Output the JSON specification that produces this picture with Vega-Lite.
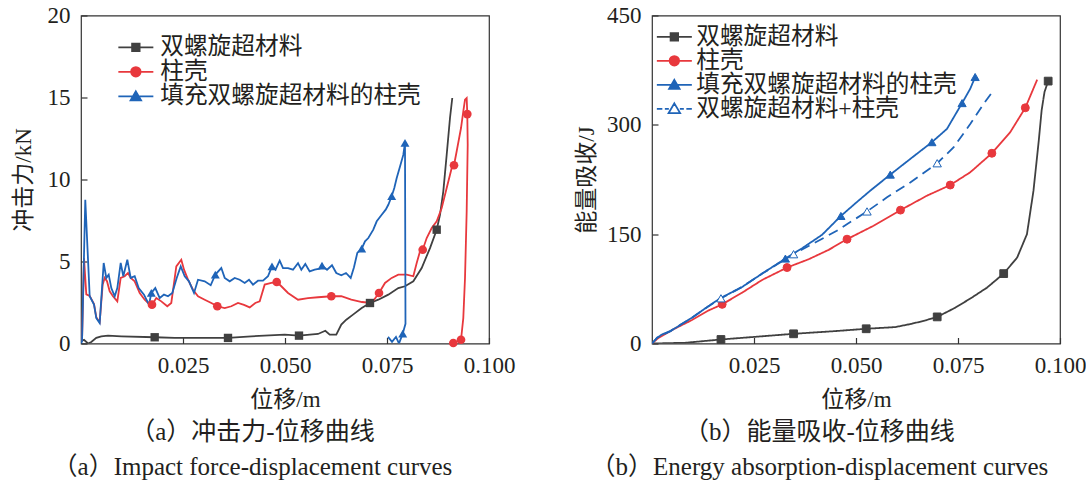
{
  "$schema": "https://vega.github.io/schema/vega-lite/v6.json",
  "background": "white",
  "padding": {"left": 11, "top": 3.5, "right": 0, "bottom": 0},
  "config": {
    "font": "Liberation Serif, Noto Sans CJK SC",
    "view": {"stroke": "#333333", "strokeWidth": 1.2},
    "axis": {
      "labelFont": "Liberation Serif, Noto Sans CJK SC",
      "titleFont": "Liberation Serif, Noto Sans CJK SC",
      "labelFontSize": 23, "titleFontSize": 23, "titleFontWeight": "normal",
      "labelColor": "#231f20", "titleColor": "#231f20",
      "grid": false, "domain": false, "tickColor": "#333333", "tickSize": -6, "tickWidth": 1.2,
      "labelPadding": 17, "labelFlush": false, "labelOverlap": false
    },
    "title": {
      "font": "Liberation Serif, Noto Sans CJK SC", "fontSize": 25, "fontWeight": "normal", "color": "#231f20",
      "subtitleFont": "Liberation Serif, Noto Sans CJK SC", "subtitleFontSize": 25, "subtitleColor": "#231f20",
      "orient": "bottom", "anchor": "middle", "frame": "bounds", "offset": 8, "subtitlePadding": 10, "dx": -11
    },
    "legend": {
      "title": null, "orient": "none", "padding": 0, "symbolSize": 100, "symbolStrokeWidth": 1.8,
      "labelFont": "Liberation Serif, Noto Sans CJK SC", "labelFontSize": 23.7, "labelColor": "#231f20",
      "labelLimit": 500, "symbolOpacity": 1
    }
  },
  "spacing": 58,
  "datasets": {
    "left": [
      {"s":"双螺旋超材料","i":0,"x":0,"y":0.13,"m":0},
      {"s":"双螺旋超材料","i":1,"x":0.00074,"y":0.23,"m":0},
      {"s":"双螺旋超材料","i":2,"x":0.00172,"y":0.0,"m":0},
      {"s":"双螺旋超材料","i":3,"x":0.00252,"y":0.09,"m":0},
      {"s":"双螺旋超材料","i":4,"x":0.00375,"y":0.34,"m":0},
      {"s":"双螺旋超材料","i":5,"x":0.00498,"y":0.44,"m":0},
      {"s":"双螺旋超材料","i":6,"x":0.00662,"y":0.48,"m":0},
      {"s":"双螺旋超材料","i":7,"x":0.00988,"y":0.44,"m":0},
      {"s":"双螺旋超材料","i":8,"x":0.01806,"y":0.38,"m":1},
      {"s":"双螺旋超材料","i":9,"x":0.02297,"y":0.34,"m":0},
      {"s":"双螺旋超材料","i":10,"x":0.03603,"y":0.34,"m":1},
      {"s":"双螺旋超材料","i":11,"x":0.04174,"y":0.44,"m":0},
      {"s":"双螺旋超材料","i":12,"x":0.04993,"y":0.54,"m":0},
      {"s":"双螺旋超材料","i":13,"x":0.05343,"y":0.48,"m":1},
      {"s":"双螺旋超材料","i":14,"x":0.05809,"y":0.58,"m":0},
      {"s":"双螺旋超材料","i":15,"x":0.05988,"y":0.78,"m":0},
      {"s":"双螺旋超材料","i":16,"x":0.06096,"y":0.54,"m":0},
      {"s":"双螺旋超材料","i":17,"x":0.06257,"y":0.54,"m":0},
      {"s":"双螺旋超材料","i":18,"x":0.0638,"y":1.15,"m":0},
      {"s":"双螺旋超材料","i":19,"x":0.06502,"y":1.45,"m":0},
      {"s":"双螺旋超材料","i":20,"x":0.06667,"y":1.76,"m":0},
      {"s":"双螺旋超材料","i":21,"x":0.0688,"y":2.16,"m":0},
      {"s":"双螺旋超材料","i":22,"x":0.07083,"y":2.47,"m":1},
      {"s":"双螺旋超材料","i":23,"x":0.07287,"y":2.67,"m":0},
      {"s":"双螺旋超材料","i":24,"x":0.07532,"y":2.98,"m":0},
      {"s":"双螺旋超材料","i":25,"x":0.07777,"y":3.38,"m":0},
      {"s":"双螺旋超材料","i":26,"x":0.07941,"y":3.49,"m":0},
      {"s":"双螺旋超材料","i":27,"x":0.08145,"y":3.79,"m":0},
      {"s":"双螺旋超材料","i":28,"x":0.0835,"y":4.6,"m":0},
      {"s":"双螺旋超材料","i":29,"x":0.08554,"y":5.82,"m":0},
      {"s":"双螺旋超材料","i":30,"x":0.08718,"y":6.94,"m":1},
      {"s":"双螺旋超材料","i":31,"x":0.08799,"y":7.85,"m":0},
      {"s":"双螺旋超材料","i":32,"x":0.0888,"y":9.28,"m":0},
      {"s":"双螺旋超材料","i":33,"x":0.08963,"y":11.51,"m":0},
      {"s":"双螺旋超材料","i":34,"x":0.09044,"y":13.75,"m":0},
      {"s":"双螺旋超材料","i":35,"x":0.091,"y":14.97,"m":0},

      {"s":"柱壳","i":0,"x":0.00025,"y":0.15,"m":0},
      {"s":"柱壳","i":1,"x":0.00074,"y":5.2,"m":0},
      {"s":"柱壳","i":2,"x":0.0013,"y":3.0,"m":0},
      {"s":"柱壳","i":3,"x":0.00213,"y":2.9,"m":0},
      {"s":"柱壳","i":4,"x":0.00319,"y":2.4,"m":0},
      {"s":"柱壳","i":5,"x":0.00375,"y":1.6,"m":0},
      {"s":"柱壳","i":6,"x":0.00458,"y":1.3,"m":0},
      {"s":"柱壳","i":7,"x":0.00532,"y":3.6,"m":0},
      {"s":"柱壳","i":8,"x":0.00581,"y":4.0,"m":0},
      {"s":"柱壳","i":9,"x":0.00637,"y":3.8,"m":0},
      {"s":"柱壳","i":10,"x":0.00703,"y":3.18,"m":0},
      {"s":"柱壳","i":11,"x":0.00784,"y":2.88,"m":0},
      {"s":"柱壳","i":12,"x":0.0089,"y":2.57,"m":0},
      {"s":"柱壳","i":13,"x":0.00973,"y":4.0,"m":0},
      {"s":"柱壳","i":14,"x":0.01071,"y":4.1,"m":0},
      {"s":"柱壳","i":15,"x":0.01152,"y":4.3,"m":0},
      {"s":"柱壳","i":16,"x":0.01218,"y":4.0,"m":0},
      {"s":"柱壳","i":17,"x":0.01316,"y":3.79,"m":0},
      {"s":"柱壳","i":18,"x":0.01439,"y":3.08,"m":0},
      {"s":"柱壳","i":19,"x":0.01561,"y":2.67,"m":0},
      {"s":"柱壳","i":20,"x":0.01684,"y":2.37,"m":0},
      {"s":"柱壳","i":21,"x":0.0174,"y":2.37,"m":1},
      {"s":"柱壳","i":22,"x":0.01846,"y":2.77,"m":0},
      {"s":"柱壳","i":23,"x":0.01968,"y":2.57,"m":0},
      {"s":"柱壳","i":24,"x":0.02115,"y":2.27,"m":0},
      {"s":"柱壳","i":25,"x":0.02213,"y":2.47,"m":0},
      {"s":"柱壳","i":26,"x":0.02336,"y":4.7,"m":0},
      {"s":"柱壳","i":27,"x":0.02458,"y":5.11,"m":0},
      {"s":"柱壳","i":28,"x":0.02525,"y":4.5,"m":0},
      {"s":"柱壳","i":29,"x":0.02623,"y":3.89,"m":0},
      {"s":"柱壳","i":30,"x":0.02745,"y":3.28,"m":0},
      {"s":"柱壳","i":31,"x":0.02868,"y":2.88,"m":0},
      {"s":"柱壳","i":32,"x":0.03032,"y":2.67,"m":0},
      {"s":"柱壳","i":33,"x":0.03194,"y":2.47,"m":0},
      {"s":"柱壳","i":34,"x":0.03341,"y":2.27,"m":1},
      {"s":"柱壳","i":35,"x":0.03522,"y":2.16,"m":0},
      {"s":"柱壳","i":36,"x":0.03684,"y":2.27,"m":0},
      {"s":"柱壳","i":37,"x":0.03848,"y":2.47,"m":0},
      {"s":"柱壳","i":38,"x":0.03995,"y":2.35,"m":0},
      {"s":"柱壳","i":39,"x":0.04135,"y":2.2,"m":0},
      {"s":"柱壳","i":40,"x":0.04272,"y":2.47,"m":0},
      {"s":"柱壳","i":41,"x":0.0438,"y":2.57,"m":0},
      {"s":"柱壳","i":42,"x":0.04502,"y":3.59,"m":0},
      {"s":"柱壳","i":43,"x":0.04664,"y":3.69,"m":0},
      {"s":"柱壳","i":44,"x":0.04797,"y":3.75,"m":1},
      {"s":"柱壳","i":45,"x":0.0491,"y":3.49,"m":0},
      {"s":"柱壳","i":46,"x":0.05074,"y":3.08,"m":0},
      {"s":"柱壳","i":47,"x":0.05319,"y":2.67,"m":0},
      {"s":"柱壳","i":48,"x":0.05564,"y":2.77,"m":0},
      {"s":"柱壳","i":49,"x":0.05809,"y":2.82,"m":0},
      {"s":"柱壳","i":50,"x":0.06135,"y":2.88,"m":1},
      {"s":"柱壳","i":51,"x":0.0638,"y":2.88,"m":0},
      {"s":"柱壳","i":52,"x":0.06625,"y":2.67,"m":0},
      {"s":"柱壳","i":53,"x":0.06887,"y":2.53,"m":0},
      {"s":"柱壳","i":54,"x":0.07125,"y":2.47,"m":0},
      {"s":"柱壳","i":55,"x":0.07304,"y":3.08,"m":1},
      {"s":"柱壳","i":56,"x":0.07451,"y":3.69,"m":0},
      {"s":"柱壳","i":57,"x":0.07615,"y":4.0,"m":0},
      {"s":"柱壳","i":58,"x":0.07777,"y":4.2,"m":0},
      {"s":"柱壳","i":59,"x":0.07983,"y":4.2,"m":0},
      {"s":"柱壳","i":60,"x":0.08145,"y":4.1,"m":0},
      {"s":"柱壳","i":61,"x":0.08228,"y":4.91,"m":0},
      {"s":"柱壳","i":62,"x":0.08309,"y":5.62,"m":0},
      {"s":"柱壳","i":63,"x":0.08375,"y":5.72,"m":1},
      {"s":"柱壳","i":64,"x":0.08473,"y":6.43,"m":0},
      {"s":"柱壳","i":65,"x":0.08596,"y":7.04,"m":0},
      {"s":"柱壳","i":66,"x":0.08718,"y":7.45,"m":0},
      {"s":"柱壳","i":67,"x":0.08841,"y":8.26,"m":0},
      {"s":"柱壳","i":68,"x":0.08963,"y":9.48,"m":0},
      {"s":"柱壳","i":69,"x":0.09086,"y":10.7,"m":0},
      {"s":"柱壳","i":70,"x":0.09142,"y":10.87,"m":1},
      {"s":"柱壳","i":71,"x":0.09208,"y":11.72,"m":0},
      {"s":"柱壳","i":72,"x":0.09314,"y":13.14,"m":0},
      {"s":"柱壳","i":73,"x":0.0937,"y":14.16,"m":0},
      {"s":"柱壳","i":74,"x":0.09412,"y":14.87,"m":0},
      {"s":"柱壳","i":75,"x":0.09453,"y":14.97,"m":0},
      {"s":"柱壳","i":76,"x":0.09468,"y":13.99,"m":1},
      {"s":"柱壳","i":77,"x":0.09478,"y":12.12,"m":0},
      {"s":"柱壳","i":78,"x":0.09453,"y":8.06,"m":0},
      {"s":"柱壳","i":79,"x":0.09412,"y":4.0,"m":0},
      {"s":"柱壳","i":80,"x":0.0937,"y":1.55,"m":0},
      {"s":"柱壳","i":81,"x":0.09314,"y":0.23,"m":1},
      {"s":"柱壳","i":82,"x":0.09125,"y":0.03,"m":1},

      {"s":"填充双螺旋超材料的柱壳","i":0,"x":0,"y":0,"m":0},
      {"s":"填充双螺旋超材料的柱壳","i":1,"x":0.00025,"y":0.13,"m":0},
      {"s":"填充双螺旋超材料的柱壳","i":2,"x":0.00105,"y":8.77,"m":0},
      {"s":"填充双螺旋超材料的柱壳","i":3,"x":0.00213,"y":2.88,"m":0},
      {"s":"填充双螺旋超材料的柱壳","i":4,"x":0.00319,"y":2.37,"m":0},
      {"s":"填充双螺旋超材料的柱壳","i":5,"x":0.00375,"y":1.55,"m":0},
      {"s":"填充双螺旋超材料的柱壳","i":6,"x":0.00458,"y":1.25,"m":0},
      {"s":"填充双螺旋超材料的柱壳","i":7,"x":0.00556,"y":4.91,"m":0},
      {"s":"填充双螺旋超材料的柱壳","i":8,"x":0.0062,"y":4.0,"m":0},
      {"s":"填充双螺旋超材料的柱壳","i":9,"x":0.00679,"y":4.2,"m":0},
      {"s":"填充双螺旋超材料的柱壳","i":10,"x":0.00743,"y":3.38,"m":0},
      {"s":"填充双螺旋超材料的柱壳","i":11,"x":0.00826,"y":2.88,"m":0},
      {"s":"填充双螺旋超材料的柱壳","i":12,"x":0.0089,"y":3.38,"m":0},
      {"s":"填充双螺旋超材料的柱壳","i":13,"x":0.00973,"y":4.91,"m":0},
      {"s":"填充双螺旋超材料的柱壳","i":14,"x":0.01037,"y":4.1,"m":0},
      {"s":"填充双螺旋超材料的柱壳","i":15,"x":0.01135,"y":5.11,"m":0},
      {"s":"填充双螺旋超材料的柱壳","i":16,"x":0.01218,"y":4.0,"m":0},
      {"s":"填充双螺旋超材料的柱壳","i":17,"x":0.01316,"y":4.1,"m":0},
      {"s":"填充双螺旋超材料的柱壳","i":18,"x":0.01414,"y":3.38,"m":0},
      {"s":"填充双螺旋超材料的柱壳","i":19,"x":0.01544,"y":2.98,"m":0},
      {"s":"填充双螺旋超材料的柱壳","i":20,"x":0.01667,"y":2.37,"m":0},
      {"s":"填充双螺旋超材料的柱壳","i":21,"x":0.01723,"y":3.08,"m":1},
      {"s":"填充双螺旋超材料的柱壳","i":22,"x":0.01821,"y":3.38,"m":0},
      {"s":"填充双螺旋超材料的柱壳","i":23,"x":0.01929,"y":2.77,"m":0},
      {"s":"填充双螺旋超材料的柱壳","i":24,"x":0.02034,"y":2.98,"m":0},
      {"s":"填充双螺旋超材料的柱壳","i":25,"x":0.02132,"y":2.88,"m":0},
      {"s":"填充双螺旋超材料的柱壳","i":26,"x":0.02238,"y":3.08,"m":0},
      {"s":"填充双螺旋超材料的柱壳","i":27,"x":0.02346,"y":4.0,"m":0},
      {"s":"填充双螺旋超材料的柱壳","i":28,"x":0.02444,"y":4.7,"m":0},
      {"s":"填充双螺旋超材料的柱壳","i":29,"x":0.02542,"y":4.1,"m":0},
      {"s":"填充双螺旋超材料的柱壳","i":30,"x":0.02647,"y":3.79,"m":0},
      {"s":"填充双螺旋超材料的柱壳","i":31,"x":0.0277,"y":3.08,"m":0},
      {"s":"填充双螺旋超材料的柱壳","i":32,"x":0.02868,"y":3.89,"m":0},
      {"s":"填充双螺旋超材料的柱壳","i":33,"x":0.03032,"y":3.79,"m":0},
      {"s":"填充双螺旋超材料的柱壳","i":34,"x":0.03179,"y":3.55,"m":0},
      {"s":"填充双螺旋超材料的柱壳","i":35,"x":0.03292,"y":4.2,"m":1},
      {"s":"填充双螺旋超材料的柱壳","i":36,"x":0.03439,"y":4.6,"m":0},
      {"s":"填充双螺旋超材料的柱壳","i":37,"x":0.03522,"y":4.0,"m":0},
      {"s":"填充双螺旋超材料的柱壳","i":38,"x":0.03645,"y":3.79,"m":0},
      {"s":"填充双螺旋超材料的柱壳","i":39,"x":0.03767,"y":4.0,"m":0},
      {"s":"填充双螺旋超材料的柱壳","i":40,"x":0.0389,"y":3.89,"m":0},
      {"s":"填充双螺旋超材料的柱壳","i":41,"x":0.04012,"y":3.69,"m":0},
      {"s":"填充双螺旋超材料的柱壳","i":42,"x":0.04118,"y":3.89,"m":0},
      {"s":"填充双螺旋超材料的柱壳","i":43,"x":0.04216,"y":3.59,"m":0},
      {"s":"填充双螺旋超材料的柱壳","i":44,"x":0.04338,"y":3.83,"m":0},
      {"s":"填充双螺旋超材料的柱壳","i":45,"x":0.04461,"y":3.83,"m":0},
      {"s":"填充双螺旋超材料的柱壳","i":46,"x":0.04583,"y":4.1,"m":0},
      {"s":"填充双螺旋超材料的柱壳","i":47,"x":0.04681,"y":4.7,"m":1},
      {"s":"填充双螺旋超材料的柱壳","i":48,"x":0.04767,"y":4.5,"m":0},
      {"s":"填充双螺旋超材料的柱壳","i":49,"x":0.0487,"y":5.05,"m":0},
      {"s":"填充双螺旋超材料的柱壳","i":50,"x":0.04951,"y":4.6,"m":0},
      {"s":"填充双螺旋超材料的柱壳","i":51,"x":0.05074,"y":4.6,"m":0},
      {"s":"填充双螺旋超材料的柱壳","i":52,"x":0.05196,"y":4.5,"m":0},
      {"s":"填充双螺旋超材料的柱壳","i":53,"x":0.05319,"y":4.9,"m":0},
      {"s":"填充双螺旋超材料的柱壳","i":54,"x":0.054,"y":4.5,"m":0},
      {"s":"填充双螺旋超材料的柱壳","i":55,"x":0.05498,"y":4.85,"m":0},
      {"s":"填充双螺旋超材料的柱壳","i":56,"x":0.05605,"y":4.4,"m":0},
      {"s":"填充双螺旋超材料的柱壳","i":57,"x":0.05728,"y":4.5,"m":0},
      {"s":"填充双螺旋超材料的柱壳","i":58,"x":0.0585,"y":4.56,"m":0},
      {"s":"填充双螺旋超材料的柱壳","i":59,"x":0.05907,"y":4.75,"m":1},
      {"s":"填充双螺旋超材料的柱壳","i":60,"x":0.0603,"y":4.5,"m":0},
      {"s":"填充双螺旋超材料的柱壳","i":61,"x":0.06152,"y":4.77,"m":0},
      {"s":"填充双螺旋超材料的柱壳","i":62,"x":0.06257,"y":4.3,"m":0},
      {"s":"填充双螺旋超材料的柱壳","i":63,"x":0.0638,"y":4.16,"m":0},
      {"s":"填充双螺旋超材料的柱壳","i":64,"x":0.06495,"y":4.3,"m":0},
      {"s":"填充双螺旋超材料的柱壳","i":65,"x":0.0661,"y":4.0,"m":0},
      {"s":"填充双螺旋超材料的柱壳","i":66,"x":0.06691,"y":4.65,"m":0},
      {"s":"填充双螺旋超材料的柱壳","i":67,"x":0.06772,"y":5.52,"m":0},
      {"s":"填充双螺旋超材料的柱壳","i":68,"x":0.0688,"y":5.78,"m":1},
      {"s":"填充双螺旋超材料的柱壳","i":69,"x":0.06961,"y":6.23,"m":0},
      {"s":"填充双螺旋超材料的柱壳","i":70,"x":0.07042,"y":6.43,"m":0},
      {"s":"填充双螺旋超材料的柱壳","i":71,"x":0.07164,"y":6.94,"m":0},
      {"s":"填充双螺旋超材料的柱壳","i":72,"x":0.07248,"y":7.45,"m":0},
      {"s":"填充双螺旋超材料的柱壳","i":73,"x":0.0737,"y":7.85,"m":0},
      {"s":"填充双螺旋超材料的柱壳","i":74,"x":0.07468,"y":8.16,"m":0},
      {"s":"填充双螺旋超材料的柱壳","i":75,"x":0.07532,"y":8.46,"m":0},
      {"s":"填充双螺旋超材料的柱壳","i":76,"x":0.07615,"y":8.98,"m":1},
      {"s":"填充双螺旋超材料的柱壳","i":77,"x":0.07679,"y":9.48,"m":0},
      {"s":"填充双螺旋超材料的柱壳","i":78,"x":0.07738,"y":10.09,"m":0},
      {"s":"填充双螺旋超材料的柱壳","i":79,"x":0.07819,"y":10.8,"m":0},
      {"s":"填充双螺旋超材料的柱壳","i":80,"x":0.07899,"y":11.5,"m":0},
      {"s":"填充双螺旋超材料的柱壳","i":81,"x":0.07941,"y":12.23,"m":1},
      {"s":"填充双螺旋超材料的柱壳","i":82,"x":0.07953,"y":1.2,"m":0},
      {"s":"填充双螺旋超材料的柱壳","i":83,"x":0.07885,"y":0.6,"m":1},
      {"s":"填充双螺旋超材料的柱壳","i":84,"x":0.07794,"y":0.0,"m":0},
      {"s":"填充双螺旋超材料的柱壳","i":85,"x":0.0772,"y":0.4,"m":0},
      {"s":"填充双螺旋超材料的柱壳","i":86,"x":0.07623,"y":0.1,"m":0},
      {"s":"填充双螺旋超材料的柱壳","i":87,"x":0.07525,"y":0.4,"m":0}
    ],
    "right": [
      {"s":"双螺旋超材料","i":0,"x":0,"y":0,"m":0},
      {"s":"双螺旋超材料","i":1,"x":0.0082,"y":1,"m":0},
      {"s":"双螺旋超材料","i":2,"x":0.0169,"y":5.5,"m":1},
      {"s":"双螺旋超材料","i":3,"x":0.0245,"y":8.8,"m":0},
      {"s":"双螺旋超材料","i":4,"x":0.0347,"y":13.3,"m":1},
      {"s":"双螺旋超材料","i":5,"x":0.0449,"y":17,"m":0},
      {"s":"双螺旋超材料","i":6,"x":0.0525,"y":20.2,"m":1},
      {"s":"双螺旋超材料","i":7,"x":0.0596,"y":22.5,"m":0},
      {"s":"双螺旋超材料","i":8,"x":0.0637,"y":27.1,"m":0},
      {"s":"双螺旋超材料","i":9,"x":0.067,"y":31.7,"m":0},
      {"s":"双螺旋超材料","i":10,"x":0.0699,"y":36.5,"m":1},
      {"s":"双螺旋超材料","i":11,"x":0.0743,"y":49,"m":0},
      {"s":"双螺旋超材料","i":12,"x":0.0784,"y":63,"m":0},
      {"s":"双螺旋超材料","i":13,"x":0.0821,"y":76.6,"m":0},
      {"s":"双螺旋超材料","i":14,"x":0.0862,"y":95.9,"m":1},
      {"s":"双螺旋超材料","i":15,"x":0.0895,"y":117.9,"m":0},
      {"s":"双螺旋超材料","i":16,"x":0.0919,"y":150,"m":0},
      {"s":"双螺旋超材料","i":17,"x":0.0935,"y":209.7,"m":0},
      {"s":"双螺旋超材料","i":18,"x":0.0948,"y":278.5,"m":0},
      {"s":"双螺旋超材料","i":19,"x":0.0955,"y":320,"m":0},
      {"s":"双螺旋超材料","i":20,"x":0.0962,"y":345,"m":0},
      {"s":"双螺旋超材料","i":21,"x":0.0971,"y":360,"m":1},

      {"s":"柱壳","i":0,"x":0,"y":0,"m":0},
      {"s":"柱壳","i":1,"x":0.0016,"y":7.8,"m":0},
      {"s":"柱壳","i":2,"x":0.0057,"y":20.7,"m":0},
      {"s":"柱壳","i":3,"x":0.0098,"y":32.2,"m":0},
      {"s":"柱壳","i":4,"x":0.0139,"y":45.4,"m":0},
      {"s":"柱壳","i":5,"x":0.0172,"y":53.7,"m":1},
      {"s":"柱壳","i":6,"x":0.0221,"y":69.8,"m":0},
      {"s":"柱壳","i":7,"x":0.027,"y":87.2,"m":0},
      {"s":"柱壳","i":8,"x":0.0331,"y":104.2,"m":1},
      {"s":"柱壳","i":9,"x":0.0384,"y":115.6,"m":0},
      {"s":"柱壳","i":10,"x":0.0433,"y":128.5,"m":0},
      {"s":"柱壳","i":11,"x":0.0478,"y":143.1,"m":1},
      {"s":"柱壳","i":12,"x":0.0543,"y":161.5,"m":0},
      {"s":"柱壳","i":13,"x":0.0609,"y":183,"m":1},
      {"s":"柱壳","i":14,"x":0.0674,"y":202.8,"m":0},
      {"s":"柱壳","i":15,"x":0.0731,"y":217.4,"m":1},
      {"s":"柱壳","i":16,"x":0.078,"y":234.9,"m":0},
      {"s":"柱壳","i":17,"x":0.0833,"y":261,"m":1},
      {"s":"柱壳","i":18,"x":0.0878,"y":289.9,"m":0},
      {"s":"柱壳","i":19,"x":0.0915,"y":323.4,"m":1},
      {"s":"柱壳","i":20,"x":0.0944,"y":361.9,"m":0},

      {"s":"填充双螺旋超材料的柱壳","i":0,"x":0,"y":0,"m":0},
      {"s":"填充双螺旋超材料的柱壳","i":1,"x":0.00123,"y":7.8,"m":0},
      {"s":"填充双螺旋超材料的柱壳","i":2,"x":0.00245,"y":12.4,"m":0},
      {"s":"填充双螺旋超材料的柱壳","i":3,"x":0.0045,"y":17,"m":0},
      {"s":"填充双螺旋超材料的柱壳","i":4,"x":0.0065,"y":23.9,"m":0},
      {"s":"填充双螺旋超材料的柱壳","i":5,"x":0.0098,"y":35.4,"m":0},
      {"s":"填充双螺旋超材料的柱壳","i":6,"x":0.0127,"y":46.8,"m":0},
      {"s":"填充双螺旋超材料的柱壳","i":7,"x":0.0167,"y":62,"m":0},
      {"s":"填充双螺旋超材料的柱壳","i":8,"x":0.0221,"y":77.6,"m":0},
      {"s":"填充双螺旋超材料的柱壳","i":9,"x":0.027,"y":95.9,"m":0},
      {"s":"填充双螺旋超材料的柱壳","i":10,"x":0.0327,"y":116.5,"m":1},
      {"s":"填充双螺旋超材料的柱壳","i":11,"x":0.0368,"y":130.7,"m":0},
      {"s":"填充双螺旋超材料的柱壳","i":12,"x":0.0417,"y":149.2,"m":0},
      {"s":"填充双螺旋超材料的柱壳","i":13,"x":0.0463,"y":175,"m":1},
      {"s":"填充双螺旋超材料的柱壳","i":14,"x":0.0502,"y":194,"m":0},
      {"s":"填充双螺旋超材料的柱壳","i":15,"x":0.0535,"y":209.7,"m":0},
      {"s":"填充双螺旋超材料的柱壳","i":16,"x":0.0584,"y":231.7,"m":1},
      {"s":"填充双螺旋超材料的柱壳","i":17,"x":0.0633,"y":253.2,"m":0},
      {"s":"填充双螺旋超材料的柱壳","i":18,"x":0.0686,"y":276.2,"m":1},
      {"s":"填充双螺旋超材料的柱壳","i":19,"x":0.0723,"y":294.5,"m":0},
      {"s":"填充双螺旋超材料的柱壳","i":20,"x":0.076,"y":329.8,"m":1},
      {"s":"填充双螺旋超材料的柱壳","i":21,"x":0.078,"y":349.5,"m":0},
      {"s":"填充双螺旋超材料的柱壳","i":22,"x":0.0792,"y":365.6,"m":1},

      {"s":"双螺旋超材料+柱壳","i":0,"x":0,"y":0,"m":0},
      {"s":"双螺旋超材料+柱壳","i":1,"x":0.00123,"y":7.8,"m":0},
      {"s":"双螺旋超材料+柱壳","i":2,"x":0.0045,"y":17,"m":0},
      {"s":"双螺旋超材料+柱壳","i":3,"x":0.0098,"y":35.4,"m":0},
      {"s":"双螺旋超材料+柱壳","i":4,"x":0.0127,"y":46.8,"m":0},
      {"s":"双螺旋超材料+柱壳","i":5,"x":0.0169,"y":62,"m":1},
      {"s":"双螺旋超材料+柱壳","i":6,"x":0.0221,"y":77.6,"m":0},
      {"s":"双螺旋超材料+柱壳","i":7,"x":0.027,"y":95.9,"m":0},
      {"s":"双螺旋超材料+柱壳","i":8,"x":0.0305,"y":108,"m":0},
      {"s":"双螺旋超材料+柱壳","i":9,"x":0.0347,"y":122.5,"m":1},
      {"s":"双螺旋超材料+柱壳","i":10,"x":0.04,"y":138.6,"m":0},
      {"s":"双螺旋超材料+柱壳","i":11,"x":0.0453,"y":154.7,"m":0},
      {"s":"双螺旋超材料+柱壳","i":12,"x":0.0527,"y":181.2,"m":1},
      {"s":"双螺旋超材料+柱壳","i":13,"x":0.0576,"y":200.5,"m":0},
      {"s":"双螺旋超材料+柱壳","i":14,"x":0.0633,"y":221,"m":0},
      {"s":"双螺旋超材料+柱壳","i":15,"x":0.0699,"y":247.3,"m":1},
      {"s":"双螺旋超材料+柱壳","i":16,"x":0.0739,"y":269,"m":0},
      {"s":"双螺旋超材料+柱壳","i":17,"x":0.078,"y":301,"m":0},
      {"s":"双螺旋超材料+柱壳","i":18,"x":0.0813,"y":328.9,"m":0},
      {"s":"双螺旋超材料+柱壳","i":19,"x":0.0837,"y":347.3,"m":0}
    ]
  },
  "hconcat": [
    {
      "width": 408, "height": 328,
      "data": {"name": "left"},
      "title": {"text": "（a）冲击力-位移曲线", "subtitle": "（a）Impact force-displacement curves"},
      "encoding": {
        "x": {"field": "x", "type": "quantitative", "scale": {"domain": [0, 0.1], "nice": false},
              "axis": {"values": [0.025, 0.05, 0.075, 0.1], "format": ".3f", "title": "位移/m", "titlePadding": 11}},
        "y": {"field": "y", "type": "quantitative", "scale": {"domain": [0, 20], "nice": false},
              "axis": {"values": [0, 5, 10, 15, 20], "title": "冲击力/kN", "titlePadding": 12}}
      },
      "layer": [
        {
          "mark": {"type": "line", "strokeWidth": 1.8, "clip": true},
          "encoding": {
            "color": {"field": "s", "type": "nominal",
              "scale": {"domain": ["双螺旋超材料", "柱壳", "填充双螺旋超材料的柱壳"], "range": ["#404040", "#e8383d", "#1f64b8"]},
              "legend": null},
            "order": {"field": "i", "type": "quantitative"}
          }
        },
        {
          "transform": [{"filter": "datum.m == 1"}],
          "mark": {"type": "point", "filled": true, "opacity": 1},
          "encoding": {
            "shape": {"field": "s", "type": "nominal", "scale": {"domain": ["双螺旋超材料", "柱壳", "填充双螺旋超材料的柱壳"], "range": ["square", "circle", "triangle-up"]}, "legend": null},
            "fill": {"field": "s", "type": "nominal", "scale": {"domain": ["双螺旋超材料", "柱壳", "填充双螺旋超材料的柱壳"], "range": ["#404040", "#e8383d", "#1f64b8"]}, "legend": null},
            "size": {"field": "s", "type": "nominal", "scale": {"domain": ["双螺旋超材料", "柱壳", "填充双螺旋超材料的柱壳"], "range": [70, 80, 85]}, "legend": null}
          }
        },
        {
          "transform": [{"filter": "datum.m == 2"}],
          "mark": {"type": "point", "filled": true, "opacity": 1, "strokeWidth": 1.8},
          "encoding": {
            "shape": {"field": "s", "type": "nominal",
              "scale": {"domain": ["双螺旋超材料", "柱壳", "填充双螺旋超材料的柱壳"],
                        "range": ["M-3.5,0H3.5M-0.75,-0.75H0.75V0.75H-0.75Z", "M-3.5,0H3.5M-0.95,0A0.95,0.95,0,1,0,0.95,0A0.95,0.95,0,1,0,-0.95,0Z", "M-3.5,0H3.5M0,-1L1.05,0.8H-1.05Z"]},
              "legend": {"legendX": 43, "legendY": 20, "rowPadding": -0.5, "labelOffset": 12.5}},
            "fill": {"field": "s", "type": "nominal",
              "scale": {"domain": ["双螺旋超材料", "柱壳", "填充双螺旋超材料的柱壳"], "range": ["#404040", "#e8383d", "#1f64b8"]},
              "legend": {"legendX": 43, "legendY": 20, "rowPadding": -0.5, "labelOffset": 12.5}},
            "stroke": {"field": "s", "type": "nominal",
              "scale": {"domain": ["双螺旋超材料", "柱壳", "填充双螺旋超材料的柱壳"], "range": ["#404040", "#e8383d", "#1f64b8"]},
              "legend": {"legendX": 43, "legendY": 20, "rowPadding": -0.5, "labelOffset": 12.5}}
          }
        }
      ],
      "resolve": {"scale": {"shape": "independent", "fill": "independent", "stroke": "independent"}}
    },
    {
      "width": 408, "height": 328,
      "data": {"name": "right"},
      "title": {"text": "（b）能量吸收-位移曲线", "subtitle": "（b）Energy absorption-displacement curves"},
      "encoding": {
        "x": {"field": "x", "type": "quantitative", "scale": {"domain": [0, 0.1], "nice": false},
              "axis": {"values": [0.025, 0.05, 0.075, 0.1], "format": ".3f", "title": "位移/m", "titlePadding": 11}},
        "y": {"field": "y", "type": "quantitative", "scale": {"domain": [0, 450], "nice": false},
              "axis": {"values": [0, 150, 300, 450], "title": "能量吸收/J", "titlePadding": 8.5}}
      },
      "layer": [
        {
          "mark": {"type": "line", "strokeWidth": 1.8, "clip": true},
          "encoding": {
            "color": {"field": "s", "type": "nominal",
              "scale": {"domain": ["双螺旋超材料", "柱壳", "填充双螺旋超材料的柱壳", "双螺旋超材料+柱壳"], "range": ["#404040", "#e8383d", "#1f64b8", "#1f64b8"]},
              "legend": null},
            "strokeDash": {"field": "s", "type": "nominal",
              "scale": {"domain": ["双螺旋超材料", "柱壳", "填充双螺旋超材料的柱壳", "双螺旋超材料+柱壳"], "range": [[1, 0], [1, 0], [1, 0], [10, 6]]}, "legend": null},
            "order": {"field": "i", "type": "quantitative"}
          }
        },
        {
          "transform": [{"filter": "datum.m == 1"}],
          "mark": {"type": "point", "filled": true, "opacity": 1, "strokeWidth": 1},
          "encoding": {
            "shape": {"field": "s", "type": "nominal", "scale": {"domain": ["双螺旋超材料", "柱壳", "填充双螺旋超材料的柱壳", "双螺旋超材料+柱壳"], "range": ["square", "circle", "triangle-up", "triangle-up"]}, "legend": null},
            "fill": {"field": "s", "type": "nominal", "scale": {"domain": ["双螺旋超材料", "柱壳", "填充双螺旋超材料的柱壳", "双螺旋超材料+柱壳"], "range": ["#404040", "#e8383d", "#1f64b8", "white"]}, "legend": null},
            "stroke": {"field": "s", "type": "nominal", "scale": {"domain": ["双螺旋超材料", "柱壳", "填充双螺旋超材料的柱壳", "双螺旋超材料+柱壳"], "range": ["#404040", "#e8383d", "#1f64b8", "#1f64b8"]}, "legend": null},
            "size": {"field": "s", "type": "nominal", "scale": {"domain": ["双螺旋超材料", "柱壳", "填充双螺旋超材料的柱壳", "双螺旋超材料+柱壳"], "range": [60, 70, 85, 110]}, "legend": null}
          }
        },
        {
          "transform": [{"filter": "datum.m == 2"}],
          "mark": {"type": "point", "filled": true, "opacity": 1, "strokeWidth": 1.8},
          "encoding": {
            "shape": {"field": "s", "type": "nominal",
              "scale": {"domain": ["双螺旋超材料", "柱壳", "填充双螺旋超材料的柱壳", "双螺旋超材料+柱壳"],
                        "range": ["M-3.5,0H3.5M-0.75,-0.75H0.75V0.75H-0.75Z", "M-3.5,0H3.5M-0.95,0A0.95,0.95,0,1,0,0.95,0A0.95,0.95,0,1,0,-0.95,0Z", "M-3.5,0H3.5M0,-1L1.05,0.8H-1.05Z", "M-3.5,0H-2.4M-1.9,0H-1.1M1.1,0H1.9M2.4,0H3.5M0,-1.1L1.15,0.85H-1.15Z"]},
              "legend": {"legendX": 10.5, "legendY": 9.5, "rowPadding": -3, "labelOffset": 10}},
            "fill": {"field": "s", "type": "nominal",
              "scale": {"domain": ["双螺旋超材料", "柱壳", "填充双螺旋超材料的柱壳", "双螺旋超材料+柱壳"], "range": ["#404040", "#e8383d", "#1f64b8", "white"]},
              "legend": {"legendX": 10.5, "legendY": 9.5, "rowPadding": -3, "labelOffset": 10}},
            "stroke": {"field": "s", "type": "nominal",
              "scale": {"domain": ["双螺旋超材料", "柱壳", "填充双螺旋超材料的柱壳", "双螺旋超材料+柱壳"], "range": ["#404040", "#e8383d", "#1f64b8", "#1f64b8"]},
              "legend": {"legendX": 10.5, "legendY": 9.5, "rowPadding": -3, "labelOffset": 10}}
          }
        }
      ],
      "resolve": {"scale": {"shape": "independent", "fill": "independent", "stroke": "independent"}}
    }
  ],
  "resolve": {
    "scale": {"x": "independent", "y": "independent", "color": "independent", "shape": "independent", "fill": "independent", "stroke": "independent", "size": "independent", "strokeDash": "independent"},
    "legend": {"color": "independent", "shape": "independent", "fill": "independent", "stroke": "independent"}
  }
}
